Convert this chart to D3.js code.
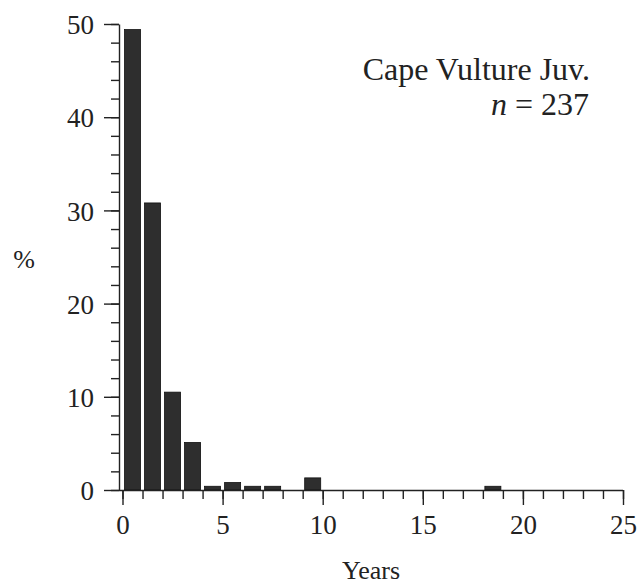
<!DOCTYPE html>
<html lang="en">
<head>
<meta charset="utf-8">
<title>Cape Vulture Juv.</title>
<script src="https://d3js.org/d3.v7.min.js"></script>
<style>
  body { margin: 0; background: #fff; }
  text { font-family: "Liberation Serif", "DejaVu Serif", serif; fill: #222; }
  .tick line, .domain { stroke: #222; stroke-width: 1.4; }
</style>
</head>
<body>
<div id="chart"></div>
<script>
// age bins (years) and % of ringed juveniles recovered in each
var years = [0, 1, 2, 3, 4, 5, 6, 7, 8, 9, 10, 11, 12, 13, 14, 15, 16, 17, 18, 19, 20, 21, 22, 23, 24];
var percent = [49.4, 30.8, 10.5, 5.1, 0.4, 0.8, 0.4, 0.4, 0, 1.3, 0, 0, 0, 0, 0, 0, 0, 0, 0.4, 0, 0, 0, 0, 0, 0];
var xTicks = [0, 5, 10, 15, 20, 25];
var yTicks = [0, 10, 20, 30, 40, 50];
var title = "Cape Vulture Juv.";
var sampleSize = 237;

var width = 638, height = 585;

var svg = d3.select("#chart").append("svg")
  .attr("width", width)
  .attr("height", height);

var x = d3.scaleLinear().domain([0, 25]).range([122.5, 623]);
var y = d3.scaleLinear().domain([0, 50]).range([490, 24]);

// bars
svg.selectAll(".bar")
  .data(years.filter(function (d, i) { return percent[i] > 0; }))
  .enter()
  .append("rect")
  .attr("class", "bar")
  .attr("x", function (d) { return x(d + 0.1); })
  .attr("width", function (d) { return x(d + 0.9) - x(d + 0.1); })
  .attr("y", function (d) { return y(percent[d]); })
  .attr("height", function (d) { return y(0) - y(percent[d]); })
  .attr("fill", "#2e2e2e")
  .attr("stroke", "#111")
  .attr("stroke-width", 0.8);

// x axis: minor then major ticks
var xMinor = svg.append("g")
  .attr("transform", "translate(0," + y(0) + ")")
  .call(d3.axisBottom(x).tickValues(d3.range(0, 26)).tickSize(9).tickFormat(""));
xMinor.select(".domain").remove();

var xAxis = svg.append("g")
  .attr("transform", "translate(0," + y(0) + ")")
  .call(d3.axisBottom(x).tickValues(xTicks).tickSize(15).tickSizeOuter(0).tickPadding(10));
xAxis.select(".domain").attr("d", "M119,0.5H" + x(25));
xAxis.selectAll("text").attr("font-size", 27).attr("fill", "#222");

// y axis
var yMinor = svg.append("g")
  .attr("transform", "translate(119,0)")
  .call(d3.axisLeft(y).tickValues(d3.range(0, 51, 2)).tickSize(8).tickFormat(""));
yMinor.select(".domain").remove();

var yAxis = svg.append("g")
  .attr("transform", "translate(119,0)")
  .call(d3.axisLeft(y).tickValues(yTicks).tickSize(15).tickSizeOuter(0).tickPadding(10));
yAxis.selectAll("text").attr("font-size", 27).attr("fill", "#222").attr("dy", "0.36em");

// axis labels
svg.append("text")
  .attr("x", 371)
  .attr("y", 579)
  .attr("text-anchor", "middle")
  .attr("font-size", 26)
  .text("Years");

svg.append("text")
  .attr("x", 24)
  .attr("y", 268)
  .attr("text-anchor", "middle")
  .attr("font-size", 26)
  .text("%");

// annotation
svg.append("text")
  .attr("x", 590)
  .attr("y", 80)
  .attr("text-anchor", "end")
  .attr("font-size", 32)
  .text(title);

var nText = svg.append("text")
  .attr("x", 589)
  .attr("y", 115)
  .attr("text-anchor", "end")
  .attr("font-size", 32);
nText.append("tspan").attr("font-style", "italic").text("n");
nText.append("tspan").text(" = " + sampleSize);
</script>
</body>
</html>
